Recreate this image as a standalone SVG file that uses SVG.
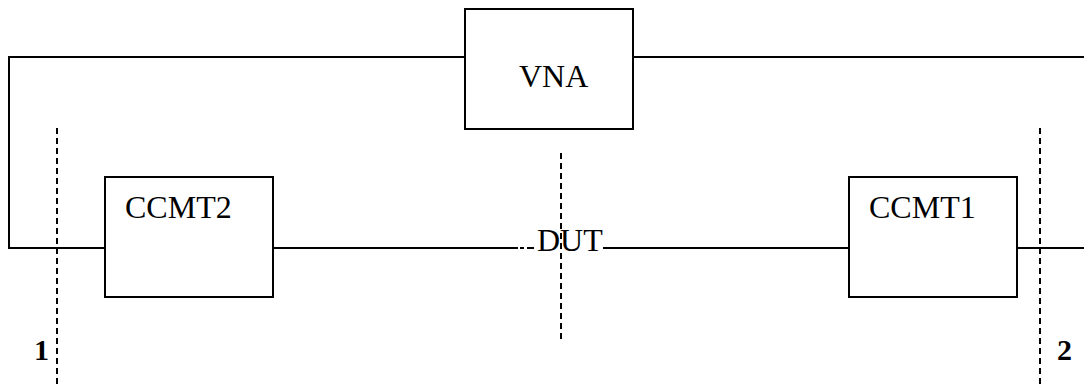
<svg xmlns="http://www.w3.org/2000/svg" width="1084" height="387" viewBox="0 0 1084 387">
<style>
.box{fill:#fff;stroke:#000;stroke-width:2}
.wire{fill:none;stroke:#000;stroke-width:2}
.dash{fill:none;stroke:#000;stroke-width:2;stroke-dasharray:6 4}
.lbl{font-family:'Liberation Serif','Times New Roman',Times,serif;font-size:32px;fill:#000}
.num{font-family:'Liberation Serif','Times New Roman',Times,serif;font-size:30px;font-weight:bold;fill:#000}
</style>
<rect width="1084" height="387" fill="#fff"/>
<g id="connectors">
<polyline class="wire" points="465,57 9,57 9,248 105,248"/>
<line class="wire" x1="633" y1="57" x2="1084" y2="57"/>
<line class="wire" x1="273" y1="248" x2="518" y2="248"/>
<line class="wire" x1="520" y1="248" x2="524" y2="248"/>
<line class="wire" x1="527" y1="248" x2="534" y2="248"/>
<line class="wire" x1="603" y1="248" x2="849" y2="248"/>
<line class="wire" x1="1017" y1="248" x2="1084" y2="248"/>
<line class="dash" x1="57" y1="128" x2="57" y2="387"/>
<line class="dash" x1="561" y1="153" x2="561" y2="341"/>
<line class="dash" x1="1040" y1="128" x2="1040" y2="387"/>
</g>
<g id="vna">
<rect class="box" x="465" y="9" width="168" height="120"/>
<text class="lbl" x="519" y="87">VNA</text>
</g>
<g id="ccmt2">
<rect class="box" x="105" y="177" width="168" height="120"/>
<text class="lbl" x="125" y="218">CCMT2</text>
</g>
<g id="ccmt1">
<rect class="box" x="849" y="177" width="168" height="120"/>
<text class="lbl" x="869" y="218">CCMT1</text>
</g>
<g id="dut">
<text class="lbl" x="537" y="251">DUT</text>
</g>
<g id="port1">
<text class="num" x="34" y="360">1</text>
</g>
<g id="port2">
<text class="num" x="1057" y="360">2</text>
</g>
</svg>
